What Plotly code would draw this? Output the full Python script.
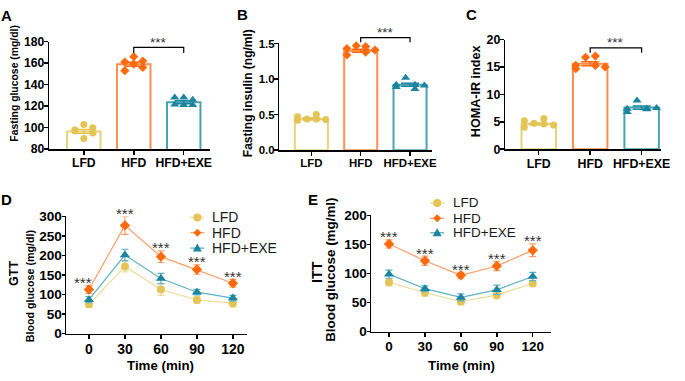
import plotly.graph_objects as go

W, H = 685, 381

# ---------------- data ----------------
GROUPS = ["LFD", "HFD", "HFD+EXE"]

A_MEAN = [96.5, 159.0, 123.5]
A_SEM = [1.8, 1.9, 1.4]
A_PTS = [[98, 97, 103, 90, 100, 95],
         [161, 153, 166, 159, 162, 156],
         [128, 121.5, 128, 121, 126, 121]]

B_MEAN = [0.44, 1.40, 0.92]
B_SEM = [0.015, 0.02, 0.02]
B_PTS = [[0.47, 0.42, 0.44, 0.50, 0.44, 0.43],
         [1.43, 1.34, 1.47, 1.46, 1.38, 1.41],
         [0.92, 0.89, 1.02, 0.86, 0.92, 0.91]]

C_MEAN = [4.6, 15.6, 7.6]
C_SEM = [0.2, 0.35, 0.3]
C_PTS = [[5.2, 4.0, 4.75, 5.6, 4.6, 4.4],
         [14.7, 15.3, 16.8, 17.0, 15.3, 15.0],
         [6.8, 7.4, 8.9, 7.3, 7.4, 7.5]]

TIME = [0, 30, 60, 90, 120]

GTT_LFD = [75, 172, 113, 86, 78]
GTT_LFD_ERR = [7, 14, 15, 8, 10]
GTT_HFD = [113, 277, 197, 164, 129]
GTT_HFD_ERR = [10, 23, 15, 12, 10]
GTT_EXE = [87, 201, 141, 106, 91]
GTT_EXE_ERR = [8, 15, 13, 7, 7]

ITT_LFD = [85, 67, 52, 63, 83]
ITT_LFD_ERR = [6, 6, 6, 6, 5]
ITT_HFD = [151, 122, 97, 113, 140]
ITT_HFD_ERR = [7, 8, 5, 8, 11]
ITT_EXE = [99, 74, 59, 72, 95]
ITT_EXE_ERR = [7, 5, 6, 8, 7]

# ---------------- style ----------------
FONT = "Liberation Sans, Arial, sans-serif"
BAR_LINE = ["#E9D27A", "#FF8E4F", "#48A3B5"]
DOT = ["#E3C455", "#FF6A0E", "#1B85A0"]
LINE = ["#EDDB93", "#FF9C66", "#5DB1C3"]
SYM = ["circle", "diamond", "triangle-up"]
JIT_A = [-0.18, -0.18, 0, 0, 0.18, 0.18]
JIT_BC = [-0.28, -0.28, -0.09, 0.1, 0.1, 0.29]


def xp(px):
    return px / W


def yp(py):
    return 1 - py / H


fig = go.Figure()

# --------- bar panels ---------
bar_panels = [
    ("x", "y", A_MEAN, A_SEM, A_PTS, JIT_A),
    ("x2", "y2", B_MEAN, B_SEM, B_PTS, JIT_BC),
    ("x3", "y3", C_MEAN, C_SEM, C_PTS, JIT_BC),
]
for xa, ya, means, sems, pts, jit in bar_panels:
    for i in range(3):
        fig.add_trace(go.Bar(
            x=[i], y=[means[i]], width=0.67, xaxis=xa, yaxis=ya,
            marker=dict(color="rgba(255,255,255,0)", line=dict(color=BAR_LINE[i], width=2)),
            error_y=dict(type="data", array=[sems[i]], color=DOT[i], thickness=1.5, width=9),
            showlegend=False, hoverinfo="skip"))
        fig.add_trace(go.Scatter(
            x=[i + j for j in jit], y=pts[i], mode="markers", xaxis=xa, yaxis=ya,
            marker=dict(symbol=SYM[i], color=DOT[i], size=7 if i < 2 else 8, line=dict(width=0)),
            showlegend=False, hoverinfo="skip", cliponaxis=False))

# --------- line panels ---------
line_panels = [
    ("x4", "y4", [(GTT_LFD, GTT_LFD_ERR), (GTT_HFD, GTT_HFD_ERR), (GTT_EXE, GTT_EXE_ERR)]),
    ("x5", "y5", [(ITT_LFD, ITT_LFD_ERR), (ITT_HFD, ITT_HFD_ERR), (ITT_EXE, ITT_EXE_ERR)]),
]
for xa, ya, series in line_panels:
    for i, (vals, errs) in enumerate(series):
        fig.add_trace(go.Scatter(
            x=TIME, y=vals, mode="lines+markers", xaxis=xa, yaxis=ya, name=GROUPS[i],
            line=dict(color=LINE[i], width=1.2),
            marker=dict(symbol=SYM[i], color=DOT[i], size=8 if i < 2 else 9, line=dict(width=0)),
            error_y=dict(type="data", array=errs, color=LINE[i], thickness=1.2, width=3.5),
            showlegend=False, hoverinfo="skip", cliponaxis=False))

# --------- axes ---------
tick_common = dict(showline=True, linecolor="black", linewidth=1.5, ticks="outside",
                   tickwidth=1.5, tickcolor="black", showgrid=False,
                   zeroline=False, fixedrange=True)
xt = dict(ticklabelstandoff=-2, ticklen=4, **tick_common)
yt = dict(ticklabelstandoff=-3, ticklen=4, **tick_common)
yt_line = dict(ticklabelstandoff=-3, ticklen=3, **tick_common)


def bold(size):
    return dict(family=FONT, size=size, color="black", weight="bold")


layout_axes = dict(
    xaxis=dict(domain=[xp(50), xp(213)], range=[-0.69, 2.53], tickvals=[0, 1, 2],
               ticktext=GROUPS, tickfont=bold(12.2), anchor="y", **xt),
    yaxis=dict(domain=[yp(148), yp(36)], range=[80, 180], dtick=20, tickfont=bold(12.2),
               anchor="x", **yt),
    xaxis2=dict(domain=[xp(283), xp(438)], range=[-0.65, 2.45], tickvals=[0, 1, 2],
                ticktext=GROUPS, tickfont=bold(11.4), anchor="y2", **xt),
    yaxis2=dict(domain=[yp(149), yp(37)], range=[0, 1.515], tickvals=[0, 0.5, 1.0, 1.5],
                ticktext=["0.0", "0.5", "1.0", "1.5"], tickfont=bold(11.4), anchor="x2",
                **yt),
    xaxis3=dict(domain=[xp(512), xp(670)], range=[-0.65, 2.38], tickvals=[0, 1, 2],
                ticktext=GROUPS, tickfont=bold(12.4), anchor="y3", **xt),
    yaxis3=dict(domain=[yp(148), yp(34)], range=[0, 20], dtick=5, tickfont=bold(12.4),
                anchor="x3", **yt),
    xaxis4=dict(domain=[xp(67), xp(250)], range=[-19, 131.5], tickvals=TIME,
                tickfont=bold(14), anchor="y4", **xt),
    yaxis4=dict(domain=[yp(340), yp(218)], range=[0, 300], dtick=50, tickfont=bold(13.6),
                anchor="x4", **yt_line),
    xaxis5=dict(domain=[xp(376), xp(558)], range=[-15, 135], tickvals=TIME,
                tickfont=bold(13.5), anchor="y5", **xt),
    yaxis5=dict(domain=[yp(338), yp(217)], range=[0, 200], dtick=50, tickfont=bold(13.5),
                anchor="x5", **yt_line),
)

annotations = []
shapes = []

# panel letters
for letter, x, y in [("A", 7, 9), ("B", 246, 8), ("C", 478, 8), ("D", 7, 200), ("E", 317, 200)]:
    annotations.append(dict(text=letter, x=xp(x), y=yp(y), xref="paper", yref="paper",
                            showarrow=False, xanchor="center", yanchor="middle",
                            font=bold(15)))

# y titles (rotated)
for txt, x, y, size in [("Fasting glucose (mg/dl)", 15, 79, 10.4),
                        ("Fasting insulin (ng/ml)", 252, 90, 12),
                        ("HOMA-IR index", 482, 88, 12.6),
                        ("GTT", 14, 277, 12.5),
                        ("Blood glucose (mg/dl)", 30, 290, 10.7),
                        ("ITT", 321, 276, 14.2),
                        ("Blood glucose (mg/ml)", 335, 274, 13.4)]:
    annotations.append(dict(text=txt, x=xp(x), y=yp(y), xref="paper", yref="paper",
                            textangle=-90, showarrow=False, xanchor="center",
                            yanchor="middle", font=bold(size)))

# x titles
for x in [163, 468]:
    annotations.append(dict(text="Time (min)", x=xp(x), y=yp(373), xref="paper",
                            yref="paper", showarrow=False, xanchor="center",
                            yanchor="middle", font=bold(13.3)))

# significance brackets on bar panels (levels in data units)
ranges = {"y": (80, 180), "y2": (0, 1.515), "y3": (0, 20)}
for xa, ya, top, drop in [("x", "y", 174.6, 169.3), ("x2", "y2", 1.585, 1.52),
                          ("x3", "y3", 18.5, 17.6)]:
    r0, r1 = ranges[ya]
    ft = (top - r0) / (r1 - r0)
    fd = (drop - r0) / (r1 - r0)
    shapes.append(dict(type="path", xref=xa, yref=ya + " domain",
                       path=f"M 1,{fd} L 1,{ft} L 2,{ft} L 2,{fd}",
                       line=dict(color="black", width=1.2)))
    annotations.append(dict(text="***", x=1.5, y=ft, xref=xa, yref=ya + " domain",
                            showarrow=False, xanchor="center", yanchor="middle", yshift=5,
                            font=dict(family=FONT, size=13.5, color="#333333")))

# asterisks on line panels
for xa, ya, vals, errs, xsh in [("x4", "y4", GTT_HFD, GTT_HFD_ERR, [-6, 0, 0, 0, 0]),
                                ("x5", "y5", ITT_HFD, ITT_HFD_ERR, [0, 0, 0, 0, 0])]:
    for t, v, e, s in zip(TIME, vals, errs, xsh):
        annotations.append(dict(text="***", x=t, y=v + e, xref=xa, yref=ya,
                                showarrow=False, xanchor="center", yanchor="middle",
                                yshift=3, xshift=s,
                                font=dict(family=FONT, size=15, color="#333333")))

# custom legends
for mx, tx, ys in [(200, 213, [219, 235, 251]), (443, 457, [204, 220, 235])]:
    for i, yy in enumerate(ys):
        ax, ay = xp(mx), yp(yy)
        shapes.append(dict(type="line", xref="paper", yref="paper", xsizemode="pixel",
                           xanchor=ax, x0=-7, x1=7, y0=ay, y1=ay,
                           line=dict(color=LINE[i], width=1.3)))
        if SYM[i] == "circle":
            shapes.append(dict(type="circle", xref="paper", yref="paper", xsizemode="pixel",
                               ysizemode="pixel", xanchor=ax, yanchor=ay, x0=-4, x1=4,
                               y0=-4, y1=4, fillcolor=DOT[i], line=dict(width=0)))
        elif SYM[i] == "diamond":
            shapes.append(dict(type="path", xref="paper", yref="paper", xsizemode="pixel",
                               ysizemode="pixel", xanchor=ax, yanchor=ay,
                               path="M 0,4 L 4,0 L 0,-4 L -4,0 Z",
                               fillcolor=DOT[i], line=dict(width=0)))
        else:
            shapes.append(dict(type="path", xref="paper", yref="paper", xsizemode="pixel",
                               ysizemode="pixel", xanchor=ax, yanchor=ay,
                               path="M -4.5,-3.5 L 4.5,-3.5 L 0,4.5 Z",
                               fillcolor=DOT[i], line=dict(width=0)))
        annotations.append(dict(text=GROUPS[i], x=xp(tx), y=ay, xref="paper", yref="paper",
                                showarrow=False, xanchor="left", yanchor="middle",
                                font=dict(family=FONT, size=14 if mx < 300 else 13.5,
                                          color="#1a1a1a")))

fig.update_layout(
    width=W, height=H, autosize=False,
    margin=dict(l=0, r=0, t=0, b=0),
    paper_bgcolor="white", plot_bgcolor="white",
    font=dict(family=FONT, color="black"),
    showlegend=False, barmode="overlay",
    annotations=annotations, shapes=shapes,
    **layout_axes,
)

fig.write_html("out.html", config={"displayModeBar": False, "staticPlot": True},
               post_script="document.body.style.margin='0';document.body.style.padding='0';")
